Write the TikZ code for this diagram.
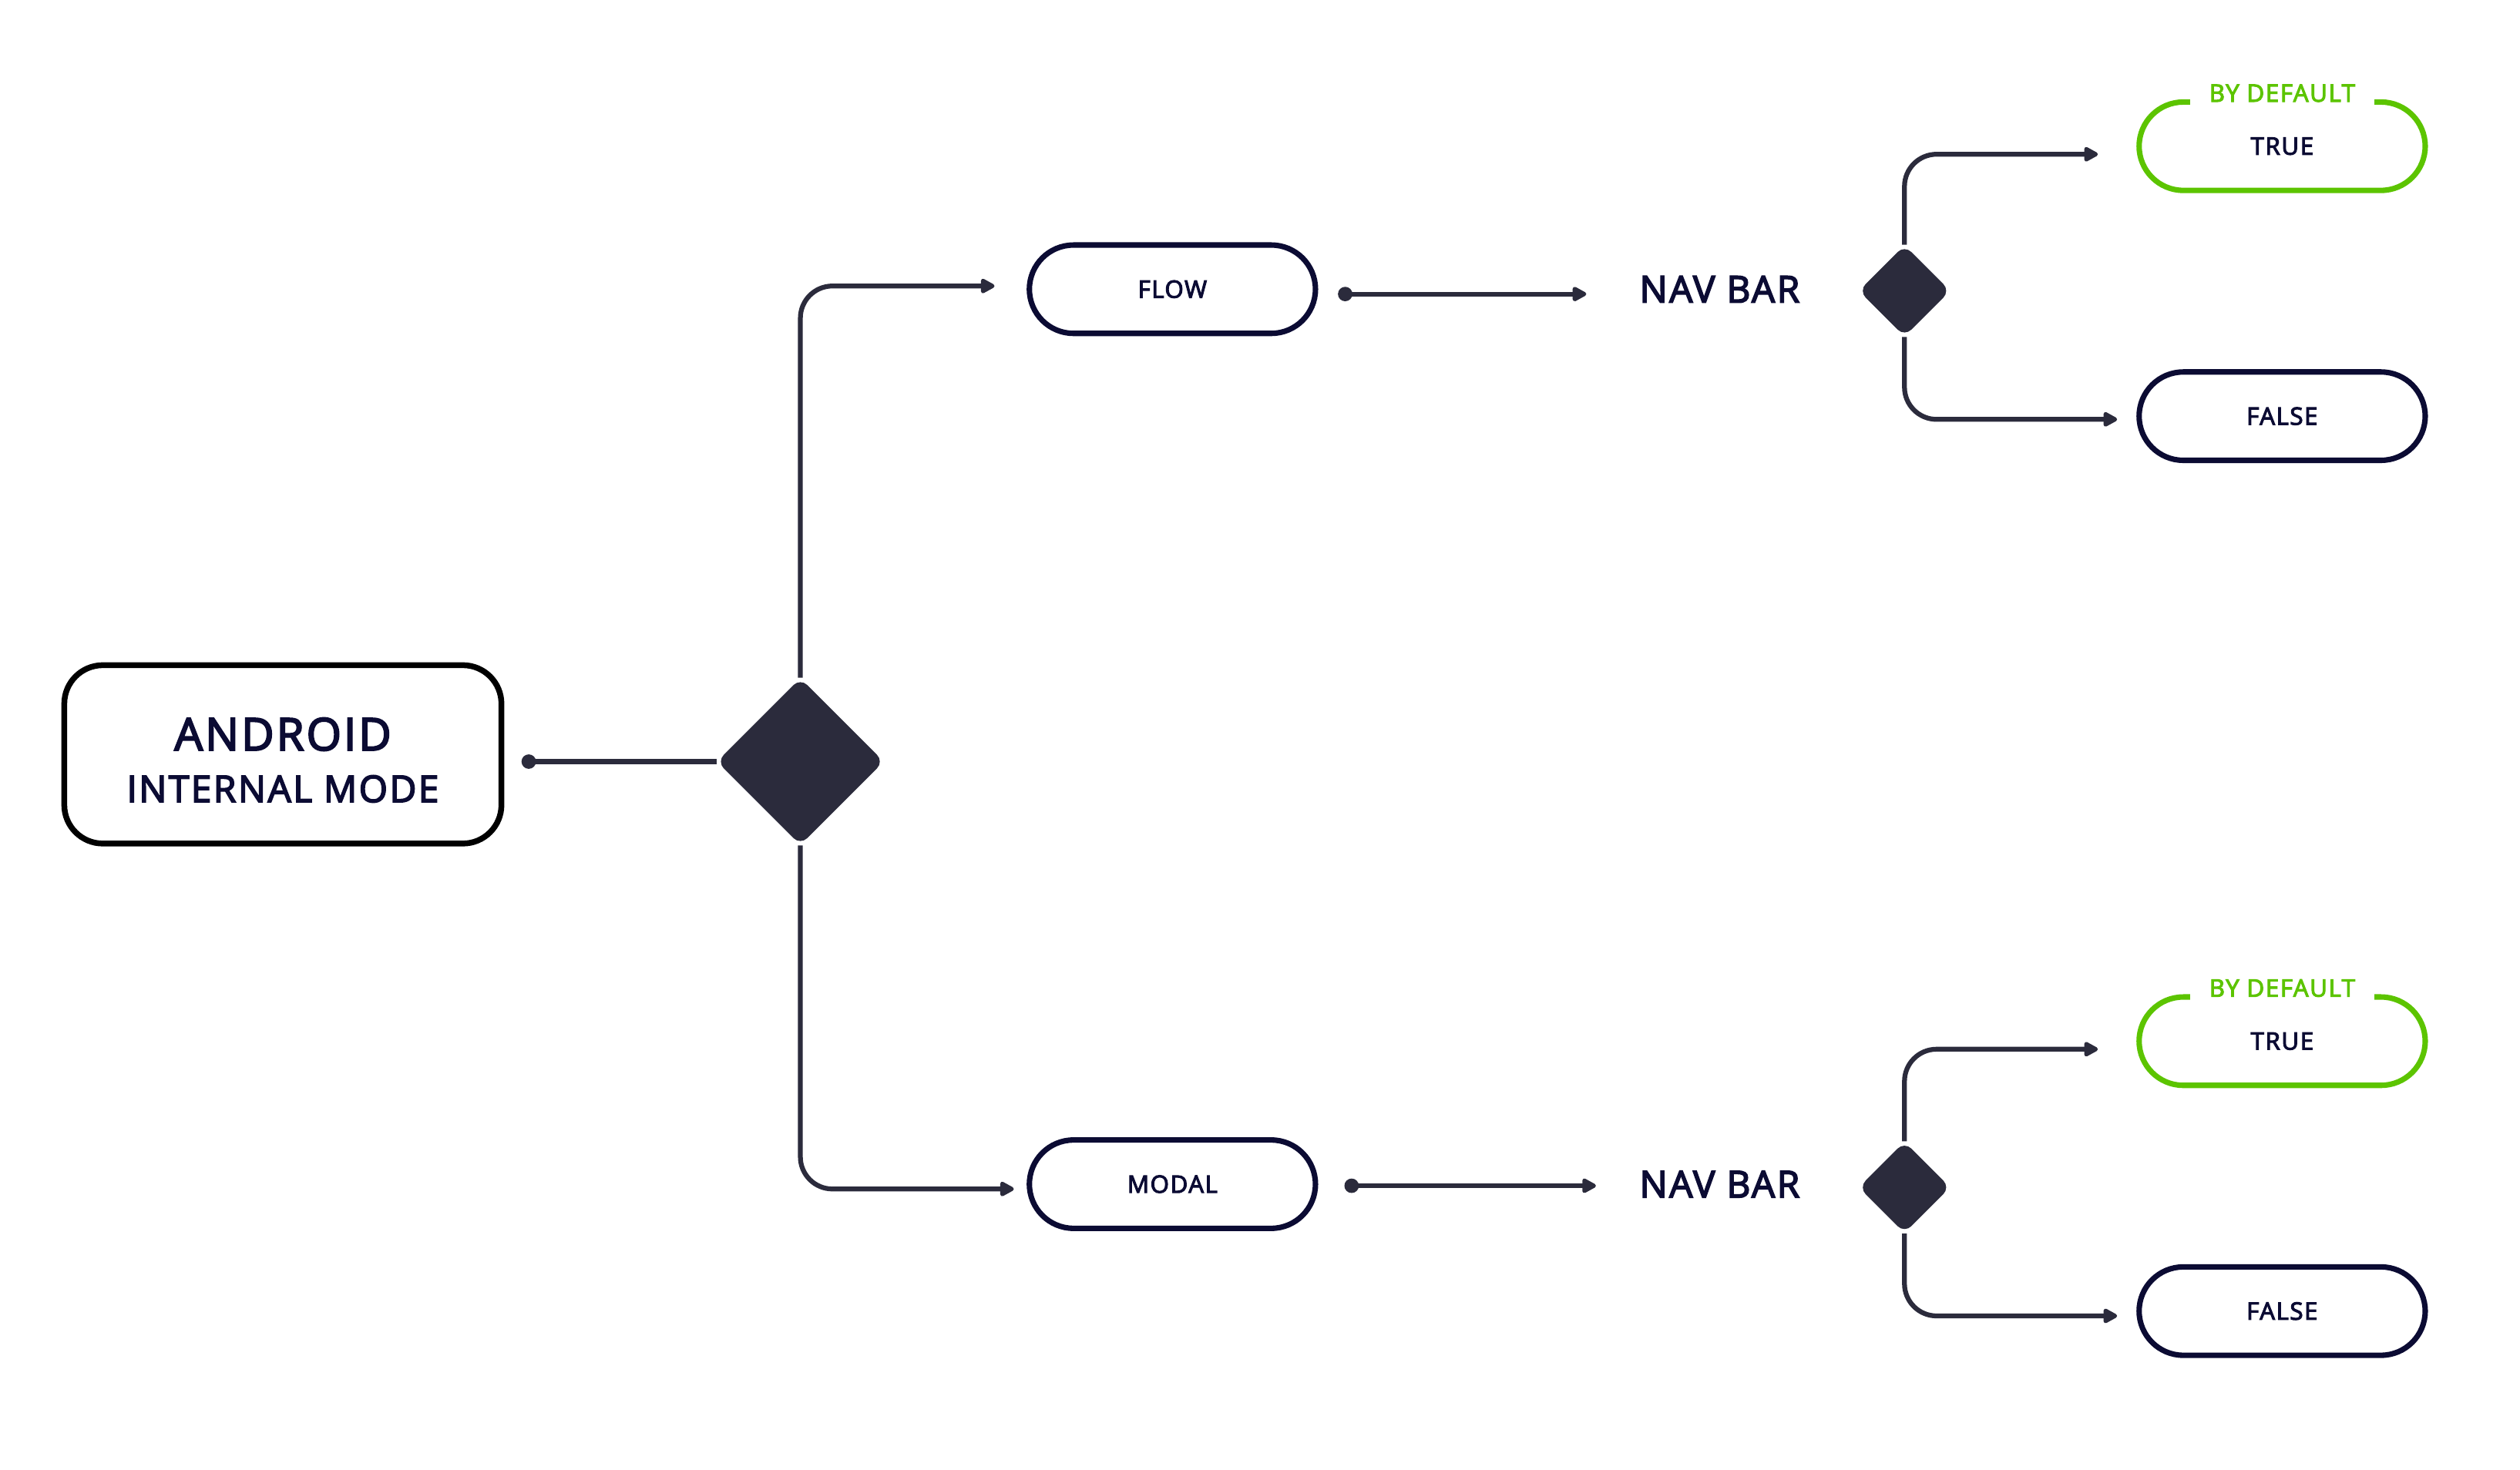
\documentclass[tikz,border=0pt]{standalone}
\usepackage{fontspec}
\setmainfont{Open Sans}[LetterSpace=5,FakeBold=3.5]
\usetikzlibrary{shapes.geometric,arrows.meta}
\definecolor{ink}{HTML}{0B0B33}
\definecolor{wirec}{HTML}{2B2B3C}
\definecolor{grn}{HTML}{5CC400}
\begin{document}
\begin{tikzpicture}[x=1pt,y=-1pt,
  conn/.style={draw=wirec,line width=3pt,-{Triangle[length=10pt,width=10pt,round]}},
  plainconn/.style={draw=wirec,line width=3pt},
  pill/.style={draw=ink,line width=3.4pt,rounded corners=27.5pt,minimum width=178pt,minimum height=55pt,inner sep=0pt,text=ink,font=\fontsize{15}{15}\selectfont},
  okpill/.style={pill,draw=grn},
  bigbox/.style={draw=black,line width=3.6pt,rounded corners=24pt,minimum width=272pt,minimum height=111pt,align=center,text=ink},
  decision/.style={diamond,fill=wirec,inner sep=0pt,minimum width=#1,minimum height=#1,rounded corners=6pt},
  navlabel/.style={text=ink,inner sep=0pt,font=\fontsize{23}{23}\selectfont},
  deflabel/.style={fill=white,text=grn,inner xsep=12pt,inner ysep=2pt,font=\fontsize{15}{15}\selectfont},
  startdot/.style={fill=wirec}
]
\useasboundingbox (0,0) rectangle (1568,914.9);

% main node
\node[bigbox] (android) at (176,469.5) {};
\node[text=ink,inner sep=0pt,font=\fontsize{28}{28}\selectfont] (t1) at (176,457) {ANDROID};
\node[text=ink,inner sep=0pt,font=\fontsize{23}{23}\selectfont] (t2) at (176,491) {INTERNAL MODE};

\node[decision=104pt] (dmain) at (498,474) {};
\coordinate (s0) at (329,474);
\fill[startdot] (s0) circle (4.5pt);
\draw[plainconn] (s0) -- (dmain.west);

% branches
\node[pill] (flow) at (729.5,180) {FLOW};
\node[pill] (modal) at (729.5,737) {MODAL};
\draw[conn,rounded corners=20pt] (dmain.north) |- ([xshift=-20pt,yshift=2pt]flow.west);
\draw[conn,rounded corners=20pt] (dmain.south) |- ([xshift=-8pt,yshift=-3pt]modal.west);

% NAV BAR rows
\node[navlabel] (nav1) at (1070,180) {NAV BAR};
\node[navlabel] (nav2) at (1070,737) {NAV BAR};
\coordinate (s1) at (837,183);
\coordinate (s2) at (841,738);
\path ([xshift=-33pt]nav1.west) coordinate (e1);
\path ([xshift=-27pt]nav2.west) coordinate (e2);
\fill[startdot] (s1) circle (4.5pt);
\fill[startdot] (s2) circle (4.5pt);
\draw[conn] (s1) -- (s1 -| e1);
\draw[conn] (s2) -- (s2 -| e2);

\node[decision=57pt] (d1) at (1185,181) {};
\node[decision=57pt] (d2) at (1185,739) {};

% results
\node[okpill] (true1) at (1420,91) {TRUE};
\node[deflabel] (def1) at (1420,58) {BY DEFAULT};
\node[pill] (false1) at (1420,259) {FALSE};
\node[okpill] (true2) at (1420,648) {TRUE};
\node[deflabel] (def2) at (1420,615) {BY DEFAULT};
\node[pill] (false2) at (1420,816) {FALSE};

\draw[conn,rounded corners=20pt] (d1.north) |- ([xshift=-24pt,yshift=-5pt]true1.west);
\draw[conn,rounded corners=20pt] (d1.south) |- ([xshift=-12pt,yshift=-2pt]false1.west);
\draw[conn,rounded corners=20pt] (d2.north) |- ([xshift=-24pt,yshift=-5pt]true2.west);
\draw[conn,rounded corners=20pt] (d2.south) |- ([xshift=-12pt,yshift=-3pt]false2.west);
\end{tikzpicture}
\end{document}
